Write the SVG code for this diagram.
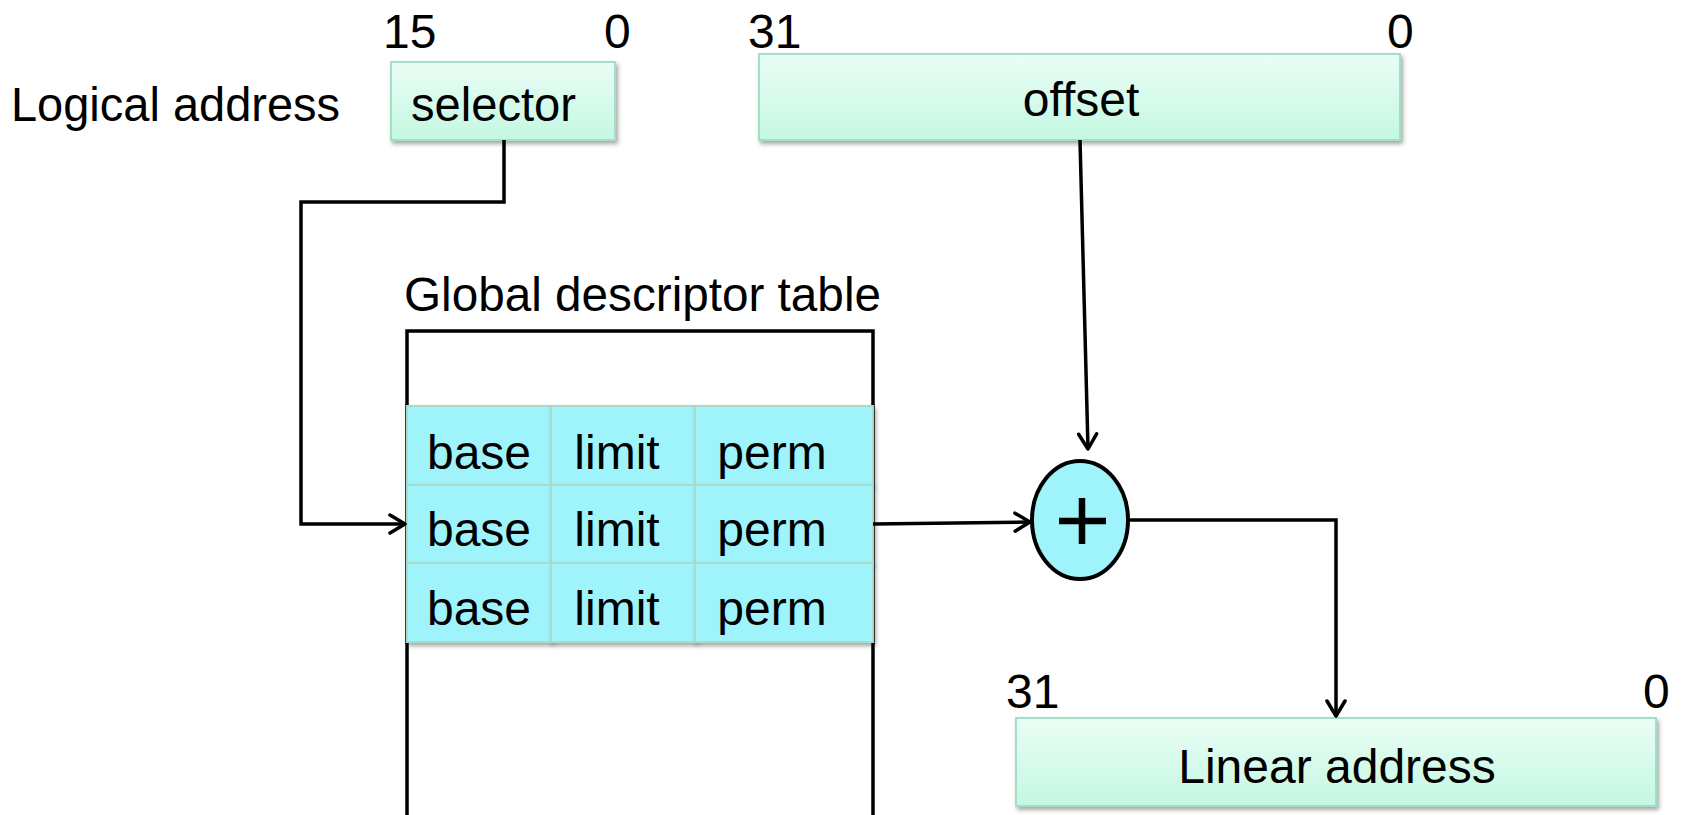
<svg xmlns="http://www.w3.org/2000/svg" width="1681" height="815" viewBox="0 0 1681 815">
  <defs>
    <linearGradient id="mint" x1="0" y1="0" x2="0" y2="1">
      <stop offset="0" stop-color="#eafdf5"/>
      <stop offset="1" stop-color="#c4f8e2"/>
    </linearGradient>
    <filter id="shadow" x="-5%" y="-10%" width="115%" height="130%">
      <feDropShadow dx="2" dy="3" stdDeviation="2" flood-color="#000" flood-opacity="0.35"/>
    </filter>
    <marker id="arrow" viewBox="-18 -11 20 22" markerWidth="20" markerHeight="22" refX="0" refY="0" orient="auto" markerUnits="userSpaceOnUse">
      <path d="M-15,-9 L0,0 L-15,9" fill="none" stroke="#000" stroke-width="3.5" stroke-linecap="round" stroke-linejoin="round"/>
    </marker>
    <style>
      text { font-family: "Liberation Sans", Arial, sans-serif; font-size: 48px; fill: #000; }
      .mid { text-anchor: middle; }
      .reg { fill: url(#mint); stroke: #a3dfc6; stroke-width: 2; filter: url(#shadow); }
      .cell { fill: #9ff4fb; stroke: #a6dcc8; stroke-width: 2; filter: url(#shadow); }
      .wire { fill: none; stroke: #000; stroke-width: 3.5; }
    </style>
  </defs>

  <rect width="1681" height="815" fill="#fff"/>

  <!-- logical address: selector -->
  <g id="logical-label">
    <text x="11" y="121" textLength="329" lengthAdjust="spacingAndGlyphs">Logical address</text>
  </g>
  <g id="selector">
    <text x="383" y="48">15</text>
    <text x="604" y="48">0</text>
    <rect class="reg" x="391" y="62" width="224" height="78"/>
    <text x="411" y="121" textLength="165" lengthAdjust="spacingAndGlyphs">selector</text>
  </g>

  <!-- logical address: offset -->
  <g id="offset">
    <text x="748" y="48">31</text>
    <text x="1387" y="48">0</text>
    <rect class="reg" x="759" y="54" width="641" height="86"/>
    <text class="mid" x="1081" y="116">offset</text>
  </g>

  <!-- global descriptor table -->
  <g id="gdt">
    <text x="404" y="311" textLength="477" lengthAdjust="spacingAndGlyphs">Global descriptor table</text>
    <path class="wire" d="M407,820 V331 H873 V820"/>
    <g id="gdt-row1">
      <rect class="cell" x="407" y="406" width="144" height="79"/>
      <rect class="cell" x="551" y="406" width="144" height="79"/>
      <rect class="cell" x="695" y="406" width="178" height="79"/>
      <text class="mid" x="479" y="469">base</text>
      <text class="mid" x="617" y="469">limit</text>
      <text class="mid" x="772" y="469">perm</text>
    </g>
    <g id="gdt-row2">
      <rect class="cell" x="407" y="485" width="144" height="78"/>
      <rect class="cell" x="551" y="485" width="144" height="78"/>
      <rect class="cell" x="695" y="485" width="178" height="78"/>
      <text class="mid" x="479" y="546">base</text>
      <text class="mid" x="617" y="546">limit</text>
      <text class="mid" x="772" y="546">perm</text>
    </g>
    <g id="gdt-row3">
      <rect class="cell" x="407" y="563" width="144" height="79"/>
      <rect class="cell" x="551" y="563" width="144" height="79"/>
      <rect class="cell" x="695" y="563" width="178" height="79"/>
      <text class="mid" x="479" y="625">base</text>
      <text class="mid" x="617" y="625">limit</text>
      <text class="mid" x="772" y="625">perm</text>
    </g>
  </g>

  <!-- adder -->
  <g id="adder">
    <ellipse cx="1080" cy="520" rx="48" ry="59" fill="#9ff4fb" stroke="#000" stroke-width="4"/>
    <path d="M1059,521 H1106 M1082,498 V544" stroke="#000" stroke-width="6.5" fill="none"/>
  </g>

  <!-- linear address -->
  <g id="linear">
    <text x="1006" y="708">31</text>
    <text x="1643" y="708">0</text>
    <rect class="reg" x="1016" y="718" width="640" height="88"/>
    <text class="mid" x="1337" y="783">Linear address</text>
  </g>

  <!-- connectors -->
  <g id="connectors">
    <path class="wire" d="M504,140 V202 H301 V524 H405" marker-end="url(#arrow)"/>
    <path class="wire" d="M1080,140 L1088,449" marker-end="url(#arrow)"/>
    <path class="wire" d="M873,524 L1030,522" marker-end="url(#arrow)"/>
    <path class="wire" d="M1128,520 H1336 V716" marker-end="url(#arrow)"/>
  </g>
</svg>
